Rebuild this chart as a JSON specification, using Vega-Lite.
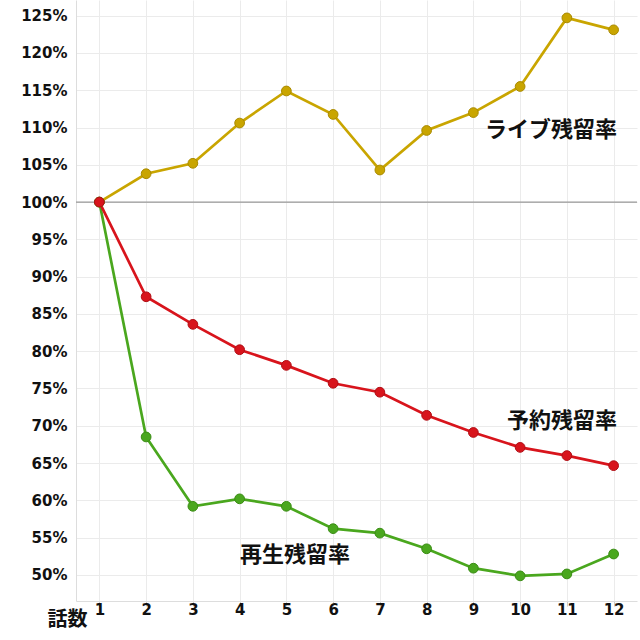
{
  "$schema": "https://vega.github.io/schema/vega-lite/v6.json",
  "autosize": "none",
  "width": 561,
  "height": 601,
  "padding": {"left": 76, "top": 0, "right": 3, "bottom": 39},
  "background": "white",
  "config": {
    "view": {"stroke": null},
    "axis": {"labelFont": "DejaVu Sans", "labelFontWeight": "bold", "labelFontSize": 15, "labelColor": "#111", "gridColor": "#ebebeb", "gridWidth": 1, "domainColor": "#dddddd"}
  },
  "datasets": {
    "lines": [
      {"ep": 1, "v": 100, "s": "live"}, {"ep": 2, "v": 103.8, "s": "live"}, {"ep": 3, "v": 105.2, "s": "live"}, {"ep": 4, "v": 110.6, "s": "live"}, {"ep": 5, "v": 114.9, "s": "live"}, {"ep": 6, "v": 111.75, "s": "live"}, {"ep": 7, "v": 104.3, "s": "live"}, {"ep": 8, "v": 109.6, "s": "live"}, {"ep": 9, "v": 112.0, "s": "live"}, {"ep": 10, "v": 115.5, "s": "live"}, {"ep": 11, "v": 124.7, "s": "live"}, {"ep": 12, "v": 123.1, "s": "live"},
      {"ep": 1, "v": 100, "s": "play"}, {"ep": 2, "v": 68.5, "s": "play"}, {"ep": 3, "v": 59.2, "s": "play"}, {"ep": 4, "v": 60.2, "s": "play"}, {"ep": 5, "v": 59.2, "s": "play"}, {"ep": 6, "v": 56.2, "s": "play"}, {"ep": 7, "v": 55.6, "s": "play"}, {"ep": 8, "v": 53.5, "s": "play"}, {"ep": 9, "v": 50.9, "s": "play"}, {"ep": 10, "v": 49.87, "s": "play"}, {"ep": 11, "v": 50.13, "s": "play"}, {"ep": 12, "v": 52.8, "s": "play"},
      {"ep": 1, "v": 100, "s": "resv"}, {"ep": 2, "v": 87.3, "s": "resv"}, {"ep": 3, "v": 83.6, "s": "resv"}, {"ep": 4, "v": 80.2, "s": "resv"}, {"ep": 5, "v": 78.1, "s": "resv"}, {"ep": 6, "v": 75.7, "s": "resv"}, {"ep": 7, "v": 74.5, "s": "resv"}, {"ep": 8, "v": 71.4, "s": "resv"}, {"ep": 9, "v": 69.1, "s": "resv"}, {"ep": 10, "v": 67.1, "s": "resv"}, {"ep": 11, "v": 66.0, "s": "resv"}, {"ep": 12, "v": 64.65, "s": "resv"}
    ],
    "labels": [
      {"ep": 12.07, "v": 109.7, "t": "ライブ残留率"},
      {"ep": 12.07, "v": 70.6, "t": "予約残留率"},
      {"ep": 6.36, "v": 52.7, "t": "再生残留率"}
    ],
    "ref": [{"v": 100}]
  },
  "layer": [
    {
      "data": {"name": "ref"},
      "mark": {"type": "rule", "color": "#999999", "strokeWidth": 1.2},
      "encoding": {"y": {"field": "v", "type": "quantitative", "scale": {"domain": [46.5, 127.1]}}}
    },
    {
      "data": {"name": "lines"},
      "mark": {"type": "line", "strokeWidth": 2.7},
      "encoding": {
        "x": {"field": "ep", "type": "quantitative", "scale": {"domain": [0.5, 12.5], "nice": false, "zero": false},
              "axis": {"values": [1,2,3,4,5,6,7,8,9,10,11,12], "format": "d", "title": "話数", "titleFont": "Noto Sans CJK JP", "titleFontSize": 20, "titleFontWeight": "bold", "titleColor": "#111", "titleX": -9, "titleY": 18, "titleAlign": "center", "titleBaseline": "middle", "tickColor": "#cccccc", "tickSize": 5, "labelPadding": 3, "labelBaseline": "middle", "labelOffset": 0}},
        "y": {"field": "v", "type": "quantitative", "scale": {"domain": [46.5, 127.1], "nice": false, "zero": false},
              "axis": {"values": [50,55,60,65,70,75,80,85,90,95,100,105,110,115,120,125], "labelExpr": "datum.value + '%'", "title": null, "ticks": false, "labelPadding": 9}},
        "color": {"field": "s", "type": "nominal", "scale": {"domain": ["live", "play", "resv"], "range": ["#c9a500", "#4aa71e", "#d8141c"]}, "legend": null},
        "order": {"field": "ep"}
      }
    },
    {
      "data": {"name": "lines"},
      "mark": {"type": "point", "filled": true, "size": 95, "strokeWidth": 1, "opacity": 1},
      "encoding": {
        "x": {"field": "ep", "type": "quantitative"},
        "y": {"field": "v", "type": "quantitative"},
        "fill": {"field": "s", "type": "nominal", "scale": {"domain": ["live", "play", "resv"], "range": ["#c9a500", "#4aa71e", "#d8141c"]}, "legend": null},
        "stroke": {"field": "s", "type": "nominal", "scale": {"domain": ["live", "play", "resv"], "range": ["#a98a00", "#3a8c14", "#b00e15"]}, "legend": null}
      }
    },
    {
      "data": {"name": "labels"},
      "mark": {"type": "text", "font": "Noto Sans CJK JP", "fontSize": 22, "fontWeight": "bold", "color": "#111", "align": "right", "baseline": "middle"},
      "encoding": {
        "x": {"field": "ep", "type": "quantitative"},
        "y": {"field": "v", "type": "quantitative"},
        "text": {"field": "t"}
      }
    }
  ]
}
